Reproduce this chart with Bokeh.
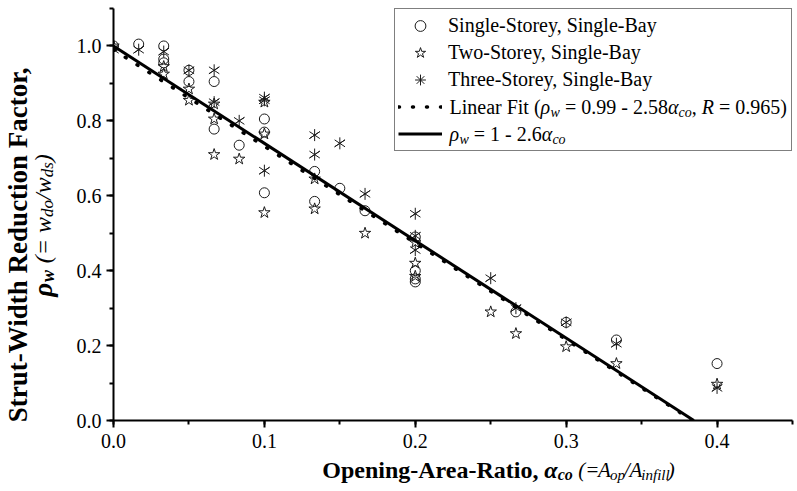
import numpy as np
from bokeh.plotting import figure
from bokeh.layouts import row, column
from bokeh.models import (Range1d, SingleIntervalTicker, PrintfTickFormatter,
                          Legend, LegendItem)
from bokeh.core.properties import value
from bokeh.embed import file_html
from bokeh.resources import INLINE

# ---------------- data ----------------
ss_x = [0.0, 0.0167, 0.0333, 0.0333, 0.0333, 0.05, 0.05, 0.0667, 0.0667, 0.0833,
        0.1, 0.1, 0.1, 0.1333, 0.1333, 0.15, 0.1667, 0.2, 0.2, 0.2, 0.2,
        0.2667, 0.3, 0.3333, 0.4]
ss_y = [1.0, 1.005, 1.0, 0.965, 0.955, 0.935, 0.905, 0.905, 0.778, 0.735,
        0.805, 0.77, 0.608, 0.665, 0.585, 0.62, 0.56, 0.49, 0.40, 0.378, 0.37,
        0.29, 0.262, 0.215, 0.152]

ts_x = [0.0, 0.0333, 0.0333, 0.05, 0.05, 0.0667, 0.0667, 0.0667, 0.0833,
        0.1, 0.1, 0.1, 0.1333, 0.1333, 0.1667, 0.2, 0.2, 0.2,
        0.25, 0.2667, 0.3, 0.3333, 0.4]
ts_y = [1.0, 0.945, 0.925, 0.885, 0.855, 0.845, 0.805, 0.71, 0.698,
        0.85, 0.765, 0.555, 0.645, 0.565, 0.50, 0.475, 0.42, 0.385,
        0.29, 0.232, 0.197, 0.152, 0.097]

th_x = [0.0, 0.0167, 0.0333, 0.05, 0.0667, 0.0667, 0.0833, 0.1, 0.1, 0.1,
        0.1333, 0.1333, 0.15, 0.1667, 0.2, 0.2, 0.2, 0.25, 0.2667, 0.3,
        0.3333, 0.4]
th_y = [0.99, 0.99, 0.985, 0.935, 0.935, 0.85, 0.80, 0.862, 0.855, 0.667,
        0.762, 0.71, 0.74, 0.605, 0.552, 0.493, 0.455, 0.38, 0.30, 0.262,
        0.205, 0.087]

fit_a, fit_b = 0.99, 2.58      # linear fit  rho = a - b*alpha
des_a, des_b = 1.0, 2.6        # proposed    rho = 1 - 2.6*alpha

series_labels = ["Single-Storey, Single-Bay", "Two-Storey, Single-Bay",
                 "Three-Storey, Single-Bay"]

# ---------------- layout sizes (page has no margin: Bokeh template) ----------------
TOT_W, TOT_H = 797, 491
LT = 70                      # left title strip
BT = 35                      # bottom title strip
MW, MH = TOT_W - LT, TOT_H - BT
ML, MR, MT, MB = 43, 5, 8, 36
FW, FH = MW - ML - MR, MH - MT - MB
XMAX, YMAX = 0.45, 1.1
FONT = "Liberation Serif"

p = figure(width=MW, height=MH, x_range=Range1d(0, XMAX), y_range=Range1d(0, YMAX),
           output_backend="svg", toolbar_location=None,
           min_border_left=ML, min_border_right=MR, min_border_top=MT,
           min_border_bottom=MB)
p.outline_line_color = None
p.grid.visible = False

p.xaxis.ticker = SingleIntervalTicker(interval=0.1, num_minor_ticks=2)
p.yaxis.ticker = SingleIntervalTicker(interval=0.2, num_minor_ticks=2)
for ax in (p.xaxis[0], p.yaxis[0]):
    ax.formatter = PrintfTickFormatter(format="%.1f")
    ax.axis_line_width = 2
    ax.axis_line_color = "black"
    ax.major_tick_line_width = 2
    ax.minor_tick_line_width = 2
    ax.major_tick_line_color = "black"
    ax.minor_tick_line_color = "black"
    ax.major_tick_in = 0
    ax.major_tick_out = 7
    ax.minor_tick_in = 0
    ax.minor_tick_out = 4
    ax.major_label_text_font = FONT
    ax.major_label_text_font_size = "20px"
    ax.major_label_text_color = "black"
p.xaxis.major_label_standoff = 6
p.yaxis.major_label_standoff = 5

MC = "#1a1a1a"
r_ss = p.scatter(ss_x, ss_y, marker="circle", size=10, fill_color=None,
                 line_color=MC, line_width=1)
r_ts = p.scatter(ts_x, ts_y, marker="star", size=12, fill_color=None,
                 line_color=MC, line_width=1)
r_th1 = p.scatter(th_x, th_y, marker="y", size=12, line_color=MC, line_width=1)
r_th2 = p.scatter(th_x, th_y, marker="y", size=12, angle=np.pi,
                  line_color=MC, line_width=1)
# legend-only glyph (not drawn on the plot)
r_th_leg = p.scatter(th_x, th_y, marker="asterisk", size=12, line_color=MC,
                     line_width=1, visible=False)

r_fit = p.line([0, fit_a / fit_b], [fit_a, 0], line_width=3.5, line_dash="1 13",
               line_cap="round", line_color="black")
r_des = p.line([0, des_a / des_b], [des_a, 0], line_width=3, line_color="black")

# ---------------- legend ----------------
PAD, GW, RH, STAND, LW = 3, 44, 27, 6, 340
legend = Legend(items=[
    LegendItem(label=value(series_labels[0]), renderers=[r_ss]),
    LegendItem(label=value(series_labels[1]), renderers=[r_ts]),
    LegendItem(label=value(series_labels[2]), renderers=[r_th_leg]),
    LegendItem(label=value(" "), renderers=[r_fit]),
    LegendItem(label=value(" "), renderers=[r_des]),
], location="top_right", margin=0, padding=PAD, spacing=0,
    glyph_width=GW, glyph_height=RH, label_height=RH, label_width=LW,
    label_standoff=STAND, label_text_font=FONT, label_text_font_size="20px",
    label_text_color="black", border_line_color="black", border_line_width=1,
    background_fill_alpha=0.0)
p.add_layout(legend)

# ---------------- rich text helpers ----------------
REG = {' ': 250, '(': 333, ')': 333, '=': 564, '-': 333, '.': 250, ',': 250, '/': 278,
       'L': 611, 'i': 278, 'n': 500, 'e': 444, 'a': 444, 'r': 333, 'F': 556, 't': 278}
ITA = {' ': 250, '(': 333, ')': 333, '=': 675, '/': 278, 'A': 611, 'R': 611, 'w': 667,
       'c': 444, 'o': 500, 'p': 500, 'i': 278, 'n': 500, 'f': 278, 'l': 278, 'd': 500,
       's': 389, 'ρ': 500, 'α': 530, ',': 250}
BLD = {'O': 778, 'p': 556, 'e': 444, 'n': 556, 'i': 278, 'g': 500, '-': 333, 'A': 722,
       'r': 444, 'a': 500, 'R': 722, 't': 333, 'o': 500, ',': 250, ' ': 250, 'S': 556,
       'u': 556, 'W': 1000, 'd': 556, 'h': 556, 'c': 444, 'F': 611}
BI = {'α': 560, 'ρ': 520, 'w': 667, 'c': 444, 'o': 500, ' ': 250}
TABLES = {"normal": REG, "italic": ITA, "bold": BLD, "bold italic": BI}
BASE_FIX = 6                 # glyph-text baseline correction (px)


def text_width(s, style, size):
    t = TABLES[style]
    w = sum(t.get(ch, 500) for ch in s) * size / 1000.0
    if "bold" in style:      # emboldened glyphs advance a little more
        w += 0.8 * sum(1 for ch in s if ch != " ")
    return w


def pieces_width(pieces):
    return sum(text_width(t, s, z) for t, s, z, _ in pieces)


def place(fig, pieces, x0, y0, kx=1.0, ky=1.0, rotate=False):
    """Lay text pieces out in pixels from (x0, y0); kx, ky turn pixels into data units.
    Leading / trailing blanks are turned into offsets (SVG collapses them)."""
    cur = 0.0
    for txt, style, size, shift in pieces:
        core = txt.strip(" ")
        lead = text_width(txt[:len(txt) - len(txt.lstrip(" "))], style, size)
        pos = cur + lead
        if rotate:
            x, y, ang = x0 + shift - BASE_FIX, y0 + pos, np.pi / 2
        else:
            x, y, ang = x0 + pos, y0 - shift + BASE_FIX, 0.0
        if core:
            fig.text(x=[x * kx], y=[y * ky], text=[core], angle=ang,
                     text_font=value(FONT), text_font_size=value(f"{size}px"),
                     text_font_style=style, text_align="left",
                     text_baseline="alphabetic", text_color="black", level="overlay")
        cur += text_width(txt, style, size)


# legend rows 4 and 5 (rich text placed on the legend rows)
leg_w = 2 * PAD + GW + STAND + LW
lx = FW - leg_w + PAD + GW + STAND
row4 = FH - (PAD + 3 * RH + RH / 2) - 7
row5 = FH - (PAD + 4 * RH + RH / 2) - 7
kx, ky = XMAX / FW, YMAX / FH
place(p, [("Linear Fit (", "normal", 20, 0), ("ρ", "italic", 20, 0), ("w", "italic", 14, 5),
          (" = 0.99 - 2.58", "normal", 20, 0), ("α", "italic", 20, 0),
          ("co", "italic", 14, 5), (", ", "normal", 20, 0), ("R", "italic", 20, 0),
          (" = 0.965)", "normal", 20, 0)], lx, row4, kx, ky)
place(p, [("ρ", "italic", 20, 0), ("w", "italic", 14, 5), (" = 1 - 2.6", "normal", 20, 0),
          ("α", "italic", 20, 0), ("co", "italic", 14, 5)], lx, row5, kx, ky)


def strip(w, h):
    f = figure(width=w, height=h, x_range=Range1d(0, w), y_range=Range1d(0, h),
               output_backend="svg", toolbar_location=None, min_border=0,
               x_axis_location=None, y_axis_location=None)
    f.outline_line_color = None
    f.grid.visible = False
    return f


# x axis title strip (below the main figure)
bx = strip(MW, BT)
xt = [("Opening-Area-Ratio, ", "bold", 24, 0), ("α", "bold italic", 24, 0),
      ("co", "bold italic", 16, 5), (" (=", "italic", 21, 0), ("A", "italic", 21, 0),
      ("op", "italic", 15, 5), ("/", "italic", 21, 0), ("A", "italic", 21, 0),
      ("infill", "italic", 15, 5), (")", "italic", 21, 0)]
place(bx, xt, (482 - LT) - pieces_width(xt) / 2, 16)

# y axis title strip (left of everything)
lf = strip(LT, TOT_H)
y1 = [("Strut-Width Reduction Factor,", "bold", 27, 0)]
y2 = [("ρ", "bold italic", 27, 0), ("w", "bold italic", 18, 5), (" (= ", "italic", 24, 0),
      ("w", "italic", 24, 0), ("do", "italic", 17, 5), ("/", "italic", 24, 0),
      ("w", "italic", 24, 0), ("ds", "italic", 17, 5), (")", "italic", 24, 0)]
place(lf, y1, 23, (TOT_H - 232) - pieces_width(y1) / 2, rotate=True)
place(lf, y2, 48, (TOT_H - 225) - pieces_width(y2) / 2, rotate=True)

layout = row(lf, column(p, bx, spacing=0), spacing=0)
open("out.html", "w").write(file_html(layout, INLINE))
